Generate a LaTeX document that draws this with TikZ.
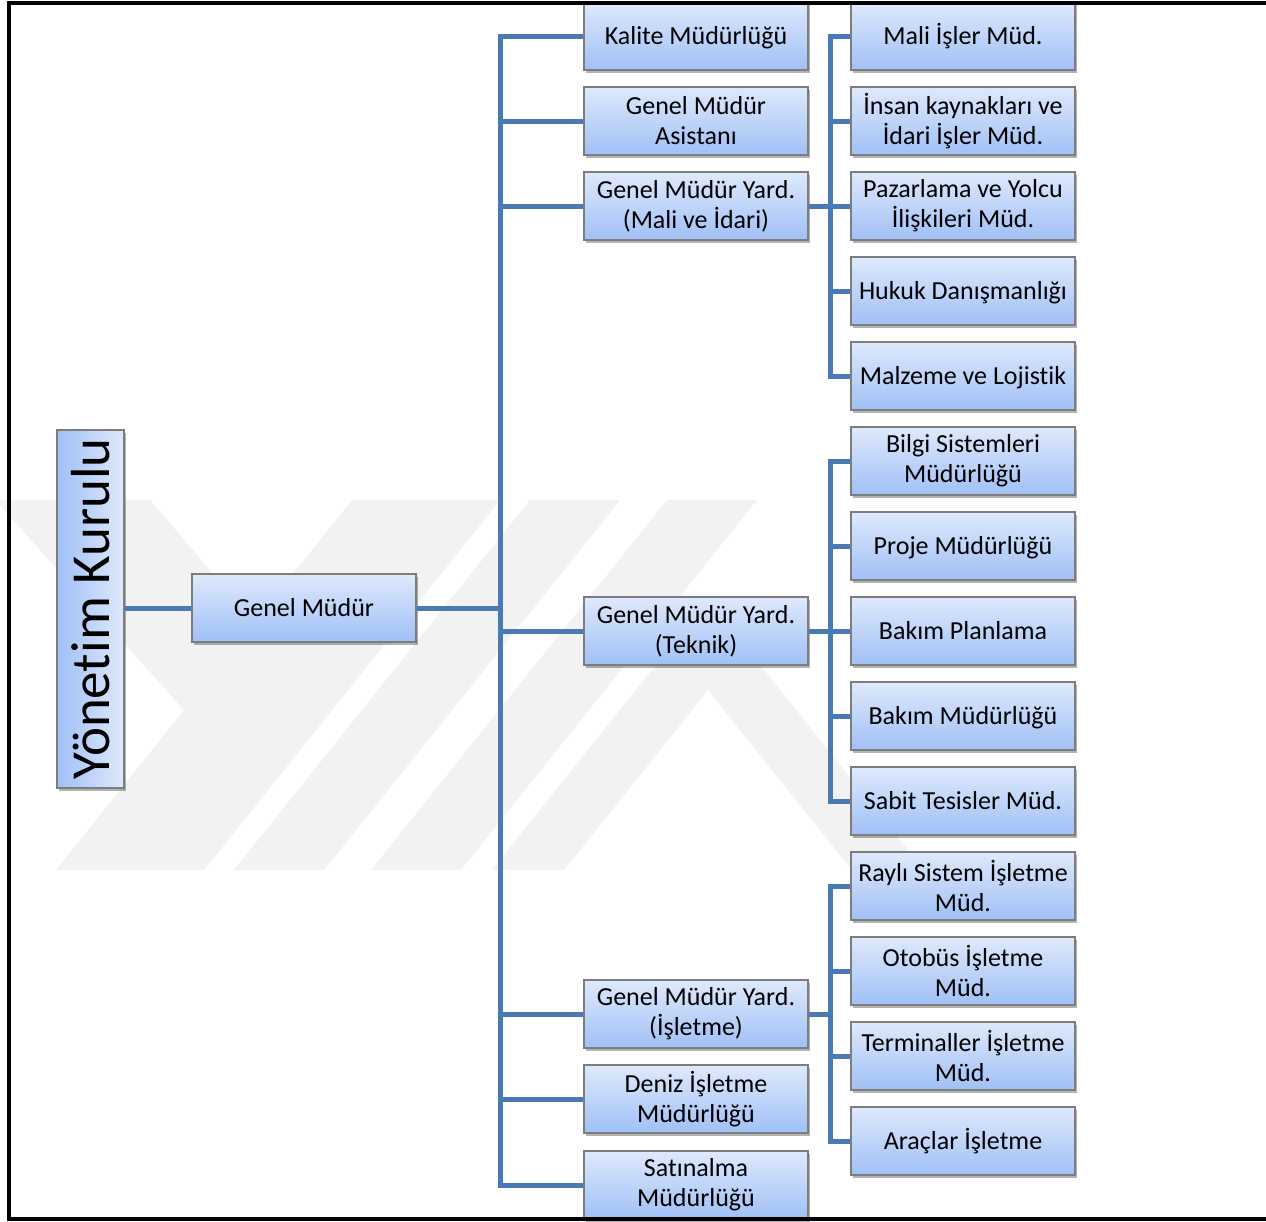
\documentclass[tikz,border=0pt]{standalone}
\usepackage{fontspec}
\setmainfont{Carlito}[Ligatures=NoCommon]
\usetikzlibrary{shadows}
\definecolor{linkblue}{RGB}{74,122,180}
\definecolor{boxtop}{RGB}{222,233,252}
\definecolor{boxbot}{RGB}{160,192,246}
\definecolor{boxedge}{RGB}{125,125,125}
\definecolor{wmgray}{RGB}{242,242,242}
\begin{document}
\begin{tikzpicture}[x=1pt,y=-1pt,
  boxshadow/.style={drop shadow={shadow xshift=1.5pt,shadow yshift=-3pt,opacity=0.3,fill=black}},
  unit/.style={draw=boxedge,line width=1.1pt,top color=boxtop,bottom color=boxbot,
    minimum width=224pt,minimum height=68pt,inner sep=2pt,align=center,
    font=\fontsize{26}{30}\selectfont,text=black,boxshadow},
  oneline/.style={unit,text height=21pt,text depth=5pt},
  board/.style={draw=boxedge,line width=1.1pt,left color=boxbot,right color=boxtop,
    minimum width=358pt,minimum height=67pt,inner sep=2pt,rotate=90,
    font=\fontsize{55}{60}\selectfont,text=black,boxshadow},
  link/.style={draw=linkblue,line width=5pt}]

\useasboundingbox (0,0) rectangle (1266,1221);

% faint background emblem
\begin{scope}
  \clip (0,500) rectangle (1266,870);
  \fill[wmgray] (352,500) -- (500,500) -- (204,870) -- (56,870) -- cycle;
  \fill[wmgray] (-5,500) -- (150,500) -- (254,622) -- (184,710) -- cycle;
  \fill[wmgray] (530,500) -- (620,500) -- (324,870) -- (234,870) -- cycle;
  \fill[wmgray] (667,500) -- (757,500) -- (461,870) -- (371,870) -- cycle;
  \fill[wmgray] (492,870) -- (708,600) -- (924,870) -- (852,870) -- (708,690) -- (564,870) -- cycle;
\end{scope}

% board and general manager
\node[board] (yk) at (90.5,609) {Yönetim Kurulu};
\node[oneline] (gm) at (304,608) {Genel Müdür};

% second level
\node[oneline] (kal) at (696,36) {Kalite Müdürlüğü};
\node[unit] (asist) at (696,121)  {Genel Müdür\\Asistanı};
\node[unit] (gmym)  at (696,206)  {Genel Müdür Yard.\\(Mali ve İdari)};
\node[unit] (gmyt)  at (696,631)  {Genel Müdür Yard.\\(Teknik)};
\node[unit] (gmyi)  at (696,1014) {Genel Müdür Yard.\\(İşletme)};
\node[unit] (deniz) at (696,1099) {Deniz İşletme\\Müdürlüğü};
\node[unit] (satin) at (696,1185) {Satınalma\\Müdürlüğü};

% financial and administrative units
\node[oneline] (mali) at (963,36) {Mali İşler Müd.};
\node[unit] (insan) at (963,121) {İnsan kaynakları ve\\İdari İşler Müd.};
\node[unit] (pazar) at (963,206) {Pazarlama ve Yolcu\\İlişkileri Müd.};
\node[oneline] (hukuk) at (963,291) {Hukuk Danışmanlığı};
\node[oneline] (malz)  at (963,376) {Malzeme ve Lojistik};

% technical units
\node[unit] (bilgi) at (963,461) {Bilgi Sistemleri\\Müdürlüğü};
\node[oneline] (proje) at (963,546) {Proje Müdürlüğü};
\node[oneline] (bakp)  at (963,631) {Bakım Planlama};
\node[oneline] (bakm)  at (963,716) {Bakım Müdürlüğü};
\node[oneline] (sabit) at (963,801) {Sabit Tesisler Müd.};

% operations units
\node[unit] (rayli) at (963,886)  {Raylı Sistem İşletme\\Müd.};
\node[unit] (otob)  at (963,971)  {Otobüs İşletme\\Müd.};
\node[unit] (term)  at (963,1056) {Terminaller İşletme\\Müd.};
\node[oneline] (arac) at (963,1141) {Araçlar İşletme};

% trunk lines
\coordinate (t1) at (500,0);
\coordinate (t2) at (830,0);

\draw[link] (gm.west -| yk.south) -- (gm.west);
\draw[link] (gm.east) -- (gm.east -| t1);
\draw[link] (kal.west) -| (t1 |- satin.west) -- (satin.west);
\foreach \n in {asist,gmym,gmyt,gmyi,deniz}
  \draw[link] (\n.west) -- (\n.west -| t1);

\draw[link] (mali.west) -| (t2 |- malz.west) -- (malz.west);
\foreach \n in {insan,pazar,hukuk}
  \draw[link] (\n.west) -- (\n.west -| t2);
\draw[link] (gmym.east) -- (gmym.east -| t2);

\draw[link] (bilgi.west) -| (t2 |- sabit.west) -- (sabit.west);
\foreach \n in {proje,bakp,bakm}
  \draw[link] (\n.west) -- (\n.west -| t2);
\draw[link] (gmyt.east) -- (gmyt.east -| t2);

\draw[link] (rayli.west) -| (t2 |- arac.west) -- (arac.west);
\foreach \n in {otob,term}
  \draw[link] (\n.west) -- (\n.west -| t2);
\draw[link] (gmyi.east) -- (gmyi.east -| t2);

% outer frame
\draw[line width=4pt] (1266,3) -- (9,3) -- (9,1219) -- (1266,1219);
\end{tikzpicture}
\end{document}
